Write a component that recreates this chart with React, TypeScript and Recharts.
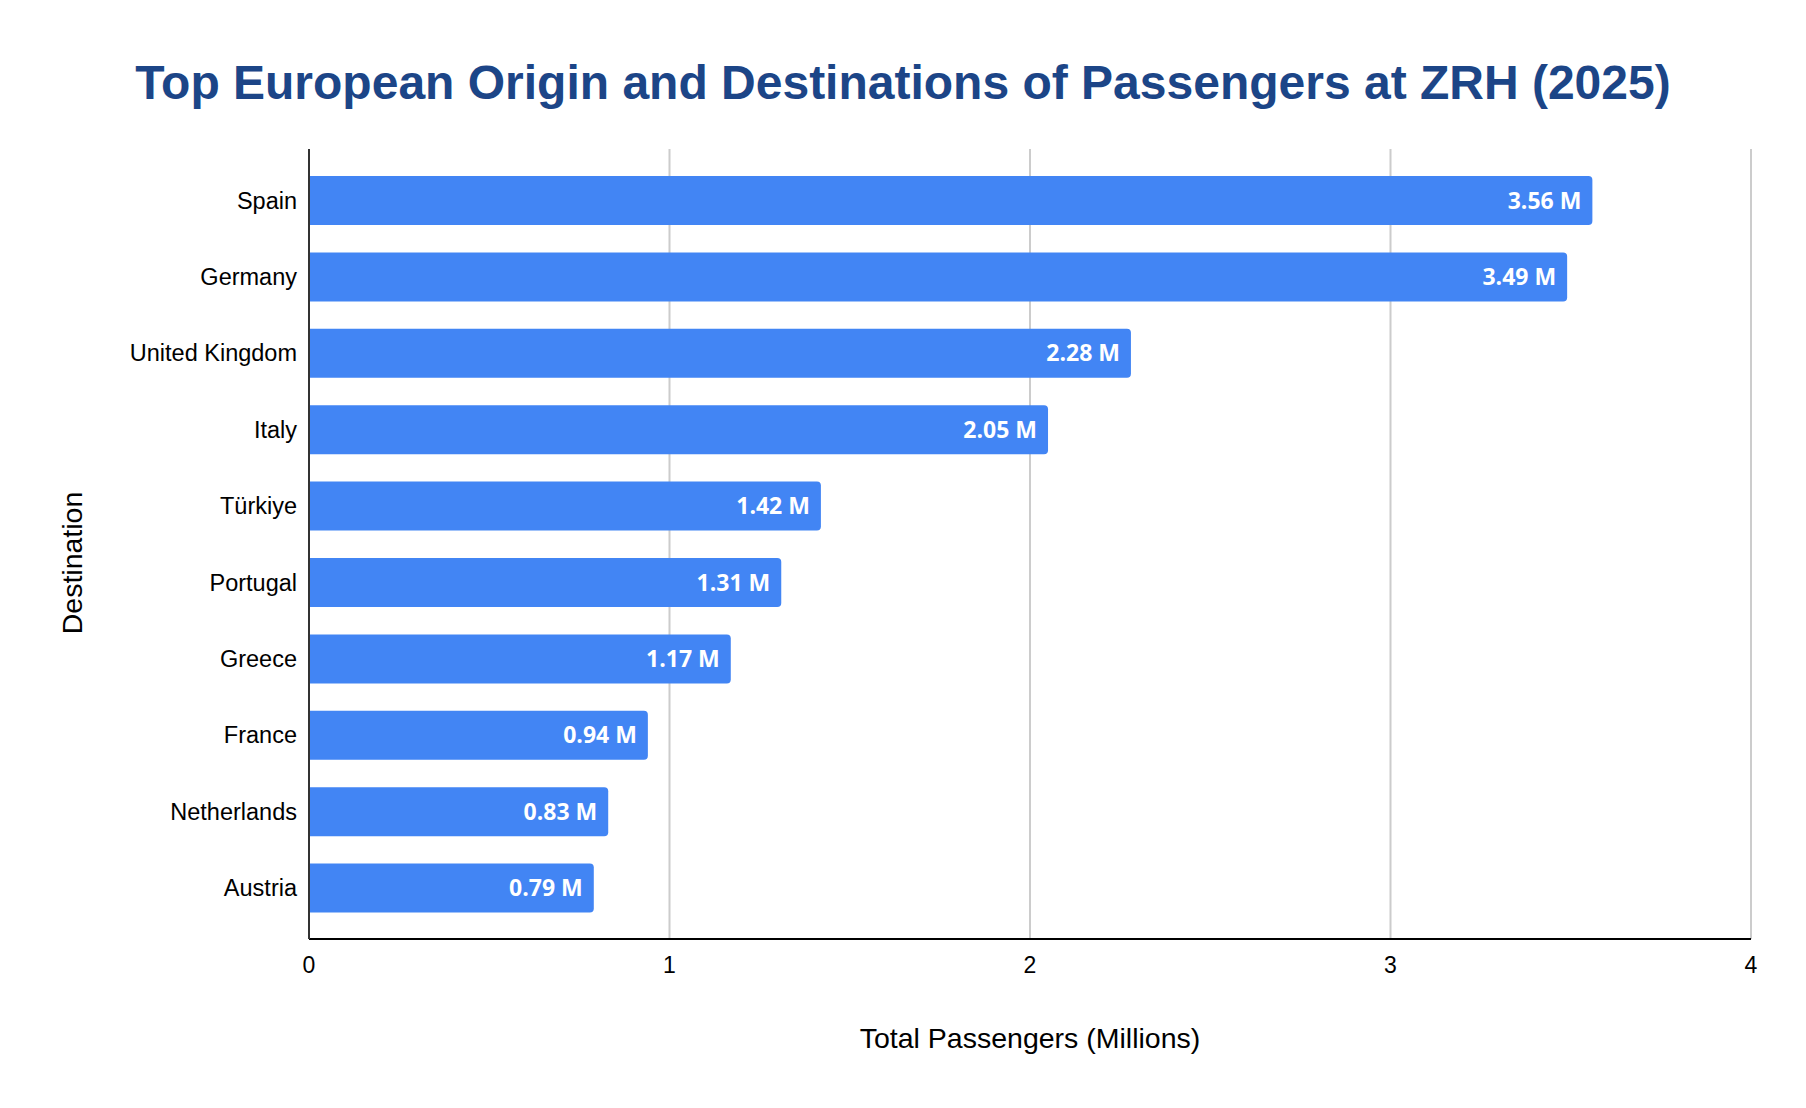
import { Bar, BarChart, CartesianGrid, LabelList, XAxis, YAxis } from 'recharts'

const destinations = [
  'Spain',
  'Germany',
  'United Kingdom',
  'Italy',
  'Türkiye',
  'Portugal',
  'Greece',
  'France',
  'Netherlands',
  'Austria'
]
const passengers = [3.56, 3.49, 2.28, 2.05, 1.42, 1.31, 1.17, 0.94, 0.83, 0.79]
const xTicks = [0, 1, 2, 3, 4]

const data = destinations.map((name, i) => ({ name, value: passengers[i] }))

const sans = '"Liberation Sans", Arial, sans-serif'

export default function App() {
  return (
    <div style={{ position: 'absolute', left: 0, top: 0, width: 1806, height: 1108, background: '#fff' }}>
      <div
        style={{
          position: 'absolute',
          left: 0,
          top: 59,
          width: 1806,
          textAlign: 'center',
          fontFamily: sans,
          fontWeight: 'bold',
          fontSize: 48,
          lineHeight: '48px',
          color: '#1c4587'
        }}
      >
        Top European Origin and Destinations of Passengers at ZRH (2025)
      </div>

      <BarChart
        width={1806}
        height={1108}
        data={data}
        layout="vertical"
        margin={{ top: 149, right: 55, bottom: 0, left: 0 }}
      >
        <CartesianGrid horizontal={false} stroke="#cccccc" strokeWidth={2} />
        <XAxis
          type="number"
          domain={[0, 4]}
          ticks={xTicks}
          tickLine={false}
          tickSize={0}
          tickMargin={18}
          axisLine={{ stroke: '#000', strokeWidth: 2 }}
          tick={{ fill: '#000', fontSize: 23, fontFamily: sans }}
          height={169}
        />
        <YAxis
          type="category"
          dataKey="name"
          width={309}
          padding={{ top: 13, bottom: 13 }}
          tickLine={false}
          tickSize={0}
          tickMargin={12}
          axisLine={{ stroke: '#333', strokeWidth: 2 }}
          tick={{ fill: '#000', fontSize: 23.5, fontFamily: sans }}
          interval={0}
        />
        <Bar dataKey="value" fill="#4285f4" barSize={49} radius={[0, 4, 4, 0]} isAnimationActive={false}>
          <LabelList
            dataKey="value"
            position="insideRight"
            offset={11}
            formatter={(v: number) => `${Number(v).toFixed(2)} M`}
            fill="#fff"
            style={{ fontFamily: '"Open Sans", "Noto Sans", sans-serif', fontWeight: 'bold', fontSize: 23 }}
          />
        </Bar>
      </BarChart>

      <div
        style={{
          position: 'absolute',
          left: 309,
          width: 1442,
          top: 1022,
          textAlign: 'center',
          fontFamily: sans,
          fontSize: 28.5,
          lineHeight: '32px',
          color: '#000'
        }}
      >
        Total Passengers (Millions)
      </div>

      <div
        style={{
          position: 'absolute',
          left: 72,
          top: 563,
          transform: 'translate(-50%, -50%) rotate(-90deg)',
          whiteSpace: 'nowrap',
          fontFamily: sans,
          fontSize: 28.5,
          lineHeight: '32px',
          color: '#000'
        }}
      >
        Destination
      </div>
    </div>
  )
}
